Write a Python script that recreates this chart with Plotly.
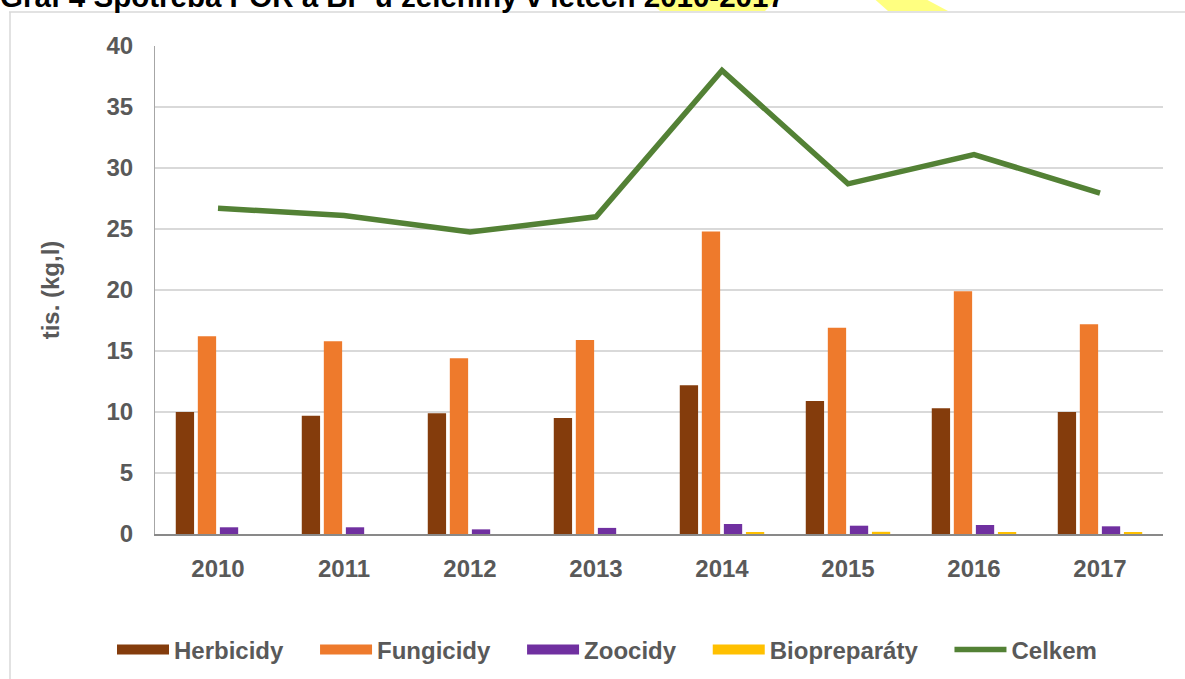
import plotly.graph_objects as go

years = ["2010", "2011", "2012", "2013", "2014", "2015", "2016", "2017"]
herbicidy = [10.0, 9.7, 9.9, 9.5, 12.2, 10.9, 10.3, 10.0]
fungicidy = [16.2, 15.8, 14.4, 15.9, 24.8, 16.9, 19.9, 17.2]
zoocidy = [0.55, 0.55, 0.38, 0.5, 0.82, 0.68, 0.74, 0.63]
biopreparaty = [0.0, 0.0, 0.0, 0.0, 0.12, 0.18, 0.1, 0.1]
celkem = [26.7, 26.1, 24.75, 26.0, 38.0, 28.7, 31.1, 27.95]

FONT = "Liberation Sans, Arial, sans-serif"
GREY_TXT = "#595959"
PAD = "\u00a0" * 4


# plot area in page pixels: x 155..1163, y 46..534
def px(x):
    return (x - 155) / 1008


def py(y):
    return 1 + (46 - y) / 488


fig = go.Figure()
bar_series = [
    ("Herbicidy", herbicidy, "#843C0C"),
    ("Fungicidy", fungicidy, "#EE7A2C"),
    ("Zoocidy", zoocidy, "#7030A0"),
    ("Biopreparáty", biopreparaty, "#FFC000"),
]
for name, vals, col in bar_series:
    fig.add_trace(go.Bar(
        x=years, y=vals, name=name, showlegend=False,
        marker=dict(color=col, line=dict(width=0)),
    ))

# legend entries drawn as wide rectangles like the original
for name, vals, col in bar_series:
    fig.add_trace(go.Scatter(
        x=[None], y=[None], name=f"<b>{name}</b>{PAD}", mode="lines",
        line=dict(color=col, width=12),
    ))

fig.add_trace(go.Scatter(
    x=years, y=celkem, name="<b>Celkem</b>", mode="lines",
    line=dict(color="#538135", width=5.5),
))

# outer chart frame and the cut-off title highlight
shapes = [
    dict(type="line", xref="paper", yref="paper", x0=px(9), x1=px(1200),
         y0=py(12), y1=py(12), line=dict(color="#d9d9d9", width=1.5)),
    dict(type="line", xref="paper", yref="paper", x0=px(10), x1=px(10),
         y0=py(12), y1=py(700), line=dict(color="#d9d9d9", width=1.5)),
    dict(type="path", xref="paper", yref="paper",
         path=f"M {px(643)} {py(-5)} L {px(780)} {py(-5)} L {px(765)} {py(11)} L {px(660)} {py(11)} Z",
         fillcolor="#FFFF80", line=dict(width=0), layer="below"),
    dict(type="path", xref="paper", yref="paper",
         path=f"M {px(870)} {py(-5)} L {px(918)} {py(-5)} L {px(948)} {py(11)} L {px(888)} {py(11)} Z",
         fillcolor="#FFFF80", line=dict(width=0), layer="below"),
]

fig.update_layout(
    width=1185, height=679,
    margin=dict(l=155, r=22, t=46, b=145, autoexpand=False),
    paper_bgcolor="white", plot_bgcolor="white",
    font=dict(family=FONT, color=GREY_TXT),
    barmode="group", bargap=0.3, bargroupgap=0.17,
    shapes=shapes,
    annotations=[dict(
        text="<b>Graf 4 Spotřeba POR a BP u zeleniny v letech 2010-2017</b>",
        xref="paper", yref="paper", x=px(-2), y=py(-3),
        xanchor="left", yanchor="middle", showarrow=False,
        font=dict(family=FONT, size=29.5, color="black"),
    )],
    xaxis=dict(
        showgrid=False, showline=True, linecolor="#898989", linewidth=2,
        ticks="", tickfont=dict(size=24, color=GREY_TXT),
        ticklabelstandoff=12, automargin=False,
    ),
    yaxis=dict(
        range=[0, 40], dtick=5, showgrid=True, gridcolor="#d9d9d9",
        gridwidth=1.5, showline=True, linecolor="#a6a6a6", linewidth=1,
        ticks="", ticklabelstandoff=16, automargin=False,
        tickfont=dict(size=24, color=GREY_TXT), zeroline=False,
        title=dict(text="<b>tis. (kg,l)</b>", font=dict(size=24, color=GREY_TXT),
                   standoff=40),
        tickformat="d",
    ),
    legend=dict(
        orientation="h", x=px(112), xanchor="left", y=py(650), yanchor="middle",
        font=dict(size=24, color=GREY_TXT), itemwidth=52,
        traceorder="normal",
    ),
)
fig.update_xaxes(tickprefix="<b>", ticksuffix="</b>")
fig.update_yaxes(tickprefix="<b>", ticksuffix="</b>")

fig.write_html("out.html", config={"displayModeBar": False},
               post_script="document.body.style.margin='0';")
